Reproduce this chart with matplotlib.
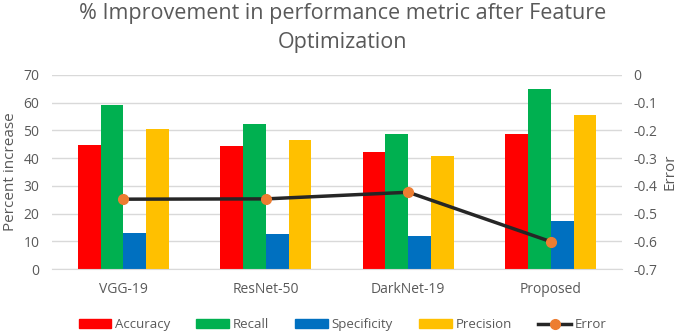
import numpy as np
import matplotlib.pyplot as plt
import matplotlib
from matplotlib.lines import Line2D

matplotlib.rcParams['font.family'] = ['Open Sans', 'DejaVu Sans']

# data
models = ['VGG-19', 'ResNet-50', 'DarkNet-19', 'Proposed']
accuracy = [44.8, 44.4, 42.1, 48.7]
recall = [59.0, 52.3, 48.7, 65.0]
specificity = [12.9, 12.5, 11.9, 17.2]
precision = [50.5, 46.5, 40.9, 55.6]
error = [-0.448, -0.447, -0.423, -0.601]

grey = '#595959'
colors = ['#FF0000', '#00B050', '#0070C0', '#FFC000']
names = ['Accuracy', 'Recall', 'Specificity', 'Precision']
series = [accuracy, recall, specificity, precision]

fig = plt.figure(figsize=(6.85, 3.33), dpi=100)
ax = fig.add_axes([0.076, 0.192, 0.832, 0.583])
x = np.arange(len(models))
w = 0.16
for i, (vals, c) in enumerate(zip(series, colors)):
    ax.bar(x + (i - 1.5) * w, vals, w, color=c, zorder=2)

ax.set_xlim(-0.5, 3.5)
ax.set_ylim(0, 70)
ax.set_yticks(range(0, 71, 10))
ax.set_xticks(x)
ax.set_xticklabels(models)
ax.grid(axis='y', color='#D9D9D9', linewidth=1, zorder=0)
for s in ax.spines.values():
    s.set_visible(False)
ax.spines['bottom'].set_visible(True)
ax.spines['bottom'].set_color('#D9D9D9')
ax.tick_params(length=0, colors=grey, labelsize=10, pad=9)
ax.set_ylabel('Percent increase', color=grey, fontsize=11)

ax2 = ax.twinx()
ax2.plot(x, error, color='#262626', linewidth=2.5, marker='o', markersize=7,
         markerfacecolor='#ED7D31', markeredgecolor='#ED7D31', zorder=3)
ax2.set_ylim(-0.7, 0)
ax2.set_yticks(np.arange(-0.7, 0.01, 0.1))
ax2.set_yticklabels(['-0.7', '-0.6', '-0.5', '-0.4', '-0.3', '-0.2', '-0.1', '0'])
for s in ax2.spines.values():
    s.set_visible(False)
ax2.tick_params(length=0, colors=grey, labelsize=10, pad=8)
ax2.set_ylabel('Error', color=grey, fontsize=11)

fig.suptitle('% Improvement in performance metric after Feature\nOptimization',
             color=grey, fontsize=15.5, y=0.99, linespacing=1.45)

handles = [plt.Rectangle((0, 0), 1, 1, color=c) for c in colors]
handles.append(Line2D([], [], color='#262626', linewidth=2.5, marker='o', markersize=7,
                      markerfacecolor='#ED7D31', markeredgecolor='#ED7D31'))
fig.legend(handles, names + ['Error'], loc='lower center', ncol=5, frameon=False,
           bbox_to_anchor=(0.5, -0.03), fontsize=9.5, labelcolor=grey,
           handlelength=2.5, handleheight=0.6, columnspacing=2.0, handletextpad=0.25)

fig.savefig('out.png', dpi=100)
